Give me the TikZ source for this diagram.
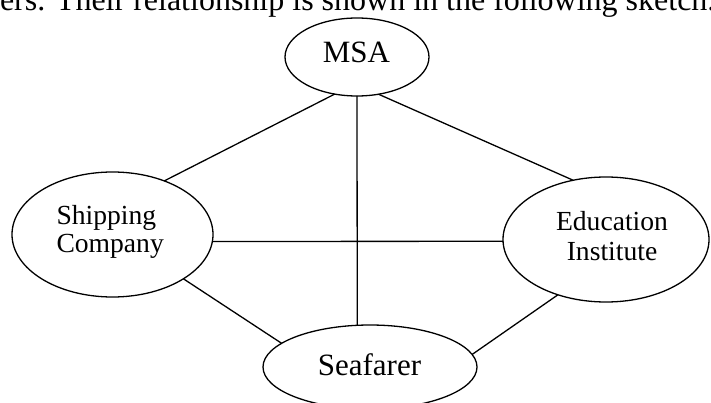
\documentclass[tikz,border=0pt]{standalone}
\usepackage{fontspec}
\setmainfont{Liberation Serif}
\usetikzlibrary{shapes.geometric}
\begin{document}
\begin{tikzpicture}[x=1pt,y=-1pt,
  oval/.style={draw=black, ellipse, line width=1.3pt, inner sep=0pt, outer sep=0pt},
  lbl/.style={inner sep=0pt, outer sep=0pt, text=black},
  link/.style={draw=black, line width=1.3pt}]
\useasboundingbox (0,0) rectangle (711,403);
\clip (0,0) rectangle (711,403);
% cut-off running text at top
\node[lbl, anchor=base west] (caption) at (0,11)
  {\fontsize{32}{36}\selectfont ers. Their relationship is shown in the following sketch.};
% ellipses
\node[oval, minimum width=144pt, minimum height=78pt] (msa) at (357,57) {};
\node[oval, minimum width=201pt, minimum height=125pt] (ship) at (112.5,234.5) {};
\node[oval, minimum width=206pt, minimum height=125pt] (edu) at (606,239.5) {};
\node[oval, minimum width=214pt, minimum height=84pt] (sea) at (370,367) {};
% labels
\node[lbl, anchor=base] (msatext) at (356.5,63) {\fontsize{31}{36}\selectfont MSA};
\node[lbl, anchor=base west] (shiptext) at (56.5,224)
  {\fontsize{27.6}{28.7}\selectfont\begin{tabular}[t]{@{}l@{}}Shipping\\Company\end{tabular}};
\node[lbl, anchor=base] (edutext) at (612,230)
  {\fontsize{27.6}{30.7}\selectfont\begin{tabular}[t]{@{}c@{}}Education\\Institute\end{tabular}};
\node[lbl, anchor=base] (seatext) at (369.5,375) {\fontsize{31}{36}\selectfont Seafarer};
% connectors
\draw[link] (msa.-121) -- (ship.46.1);
\draw[link] (msa.-90) -- (sea.107.2);
\draw[link] (msa.-60) -- (edu.119);
\draw[link] (ship.-4.3) -- (edu.181.4);
\draw[link] (ship.-32.3) -- (sea.165.1);
\draw[link] (edu.-131.9) -- (sea.7.7);
\end{tikzpicture}
\end{document}
